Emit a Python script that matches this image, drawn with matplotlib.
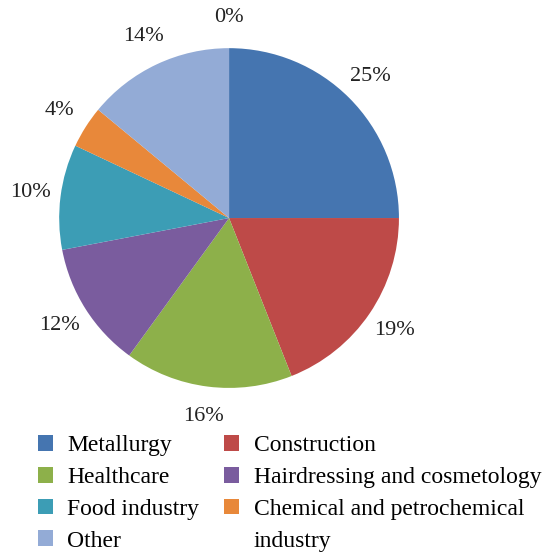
import matplotlib.pyplot as plt
from matplotlib.patches import Patch

plt.rcParams['font.family'] = ['Liberation Serif', 'DejaVu Serif']

sectors = ["Metallurgy", "Construction", "Healthcare", "Hairdressing and cosmetology",
           "Food industry", "Chemical and petrochemical", "Other", ""]
shares = [25, 19, 16, 12, 10, 4, 14, 0]
colors = ["#4575B0", "#BE4A48", "#8DB04A", "#7A5C9E", "#3C9DB5", "#E8883A", "#93ABD6", "#FFFFFF"]

fig = plt.figure(figsize=(5.48, 5.52), dpi=100)
ax = fig.add_axes([0.108, 0.297, 0.620, 0.616])

wedges, texts, autotexts = ax.pie(shares, colors=colors, startangle=90, counterclock=False,
                                  autopct='%1.0f%%', pctdistance=1.18, radius=1.0,
                                  textprops={'fontsize': 16, 'color': '#222222'})
ax.set_xlim(-1, 1)
ax.set_ylim(-1, 1)
ax.set_aspect('equal')

handles = [Patch(facecolor=c) for c in colors[:7]]
blank = Patch(facecolor='none', edgecolor='none')
# left column first, then right column; last row of right column holds the wrapped word
order = [0, 2, 4, 6, 1, 3, 5]
leg_handles = [handles[i] for i in order] + [blank]
leg_labels = [sectors[i] for i in order] + ["industry"]
fig.legend(leg_handles, leg_labels, ncol=2,
           loc='upper left', bbox_to_anchor=(0.069, 0.212), frameon=False,
           fontsize=17, handlelength=0.65, handleheight=0.65, handletextpad=0.6,
           labelspacing=0.45, columnspacing=1.05, borderpad=0, borderaxespad=0)

fig.savefig("out.png", dpi=100)
